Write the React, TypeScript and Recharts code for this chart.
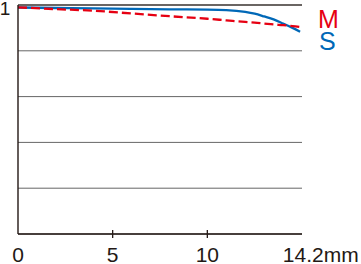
import React from "react";
import { LineChart, Line, XAxis, YAxis, CartesianGrid, ReferenceLine } from "recharts";

const positions = [0, 2, 4, 6, 8, 10, 11, 12, 12.5, 13, 13.5, 14, 14.5, 14.9];
const sagittal = [0.989, 0.987, 0.985, 0.983, 0.981, 0.98, 0.978, 0.97, 0.962, 0.95, 0.937, 0.919, 0.9, 0.883];
const meridional = [0.99, 0.982, 0.975, 0.963, 0.951, 0.94, 0.933, 0.926, 0.923, 0.919, 0.915, 0.912, 0.908, 0.904];

const xTicks = [0, 5, 10, 14.2];
const xTickLabels = ["0", "5", "10", "14.2mm"];
const yTicks = [0, 0.2, 0.4, 0.6, 0.8, 1];
const yTickLabels: Record<number, string> = { 1: "1" };

const data = positions.map((x, i) => ({ x, S: sagittal[i], M: meridional[i] }));

const DARK = "#231815";
const RED = "#e60012";
const BLUE = "#0068b7";
const FONT = "'Liberation Sans', Arial, sans-serif";

const XTick = (props: any) => {
  const { x, y, payload, index } = props;
  const label = xTickLabels[index];
  const isLast = index === xTicks.length - 1;
  const showMark = payload.value > 0 && !isLast;
  return (
    <g>
      {showMark && <line x1={x} x2={x} y1={y - 4} y2={y + 4} stroke={DARK} strokeWidth={1.3} />}
      <text
        x={isLast ? x - 4 : x}
        y={y + 28}
        textAnchor={isLast ? "start" : "middle"}
        fontSize={21}
        fontFamily={FONT}
        fill={DARK}
      >
        {label}
      </text>
    </g>
  );
};

const YTick = (props: any) => {
  const { y, payload } = props;
  const label = yTickLabels[payload.value];
  if (!label) return <g />;
  return (
    <text x={5} y={y + 10} textAnchor="middle" fontSize={19} fontFamily={FONT} fill={DARK}>
      {label}
    </text>
  );
};

export default function App() {
  return (
    <div style={{ position: "absolute", left: 0, top: 0, width: 361, height: 264, background: "#fff" }}>
      <LineChart width={361} height={264} data={data} margin={{ top: 5, right: 59, bottom: 0, left: 0 }}>
        <CartesianGrid vertical={false} stroke="#666" strokeWidth={1} />
        <XAxis
          dataKey="x"
          type="number"
          domain={[0, 15]}
          ticks={xTicks}
          tick={<XTick />}
          tickLine={false}
          tickSize={0}
          tickMargin={0}
          height={30}
          axisLine={{ stroke: DARK, strokeWidth: 1.4 }}
          interval={0}
        />
        <YAxis
          type="number"
          domain={[0, 1]}
          ticks={yTicks}
          tick={<YTick />}
          tickLine={false}
          tickSize={0}
          tickMargin={0}
          width={18}
          axisLine={{ stroke: DARK, strokeWidth: 1.4 }}
          interval={0}
        />
        <ReferenceLine y={1} stroke={DARK} strokeWidth={1.2} />
        <Line type="monotone" dataKey="S" stroke={BLUE} strokeWidth={2.3} dot={false} isAnimationActive={false} />
        <Line
          type="monotone"
          dataKey="M"
          stroke={RED}
          strokeWidth={2.3}
          strokeDasharray="9 4"
          dot={false}
          isAnimationActive={false}
        />
      </LineChart>
      <svg width={361} height={264} style={{ position: "absolute", left: 0, top: 0, pointerEvents: "none" }}>
        <text x={318} y={28} fontSize={25} fontFamily={FONT} fill={RED}>M</text>
        <text x={319} y={50} fontSize={25} fontFamily={FONT} fill={BLUE}>S</text>
      </svg>
    </div>
  );
}
